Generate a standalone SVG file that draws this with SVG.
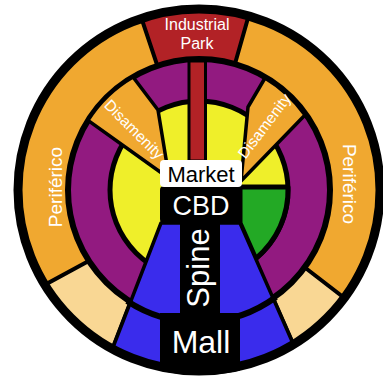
<svg xmlns="http://www.w3.org/2000/svg" width="383" height="381" viewBox="0 0 383 381">
<style>
.lbl{font-family:"Liberation Sans",Arial,sans-serif;fill:#fff}
.dark{fill:#000}
.sec{stroke:#000;stroke-width:4;stroke-linejoin:round}
</style>
<defs>
<clipPath id="disc"><circle cx="199" cy="190" r="181"/></clipPath>
</defs>
<g id="ring-outer">
<circle cx="199" cy="190" r="181" fill="#F0A830"/>
</g>
<g id="industrial-park" clip-path="url(#disc)">
<path class="sec" d="M199,190 L132,-10 L256,-10 Z" fill="#B22226"/>
</g>
<g id="tan-left" clip-path="url(#disc)">
<path class="sec" d="M102.5,253.5 L-55,339 L-20,460 L83.8,423 L137.8,283 Z" fill="#F9D794"/>
</g>
<g id="tan-right" clip-path="url(#disc)">
<path class="sec" d="M283.5,251 L448,378 L420,480 L328,423 L266.4,283 Z" fill="#F9D794"/>
</g>
<g id="ring-middle">
<circle cx="199" cy="190" r="131" fill="#921A80" stroke="#000" stroke-width="6"/>
</g>
<g id="ring-inner">
<circle cx="199" cy="190" r="89" fill="#EFEF2A" stroke="#000" stroke-width="5"/>
</g>
<g id="green">
<path d="M240,187 L288,187 A89,89 0 0 1 255.7,258.6 L240,223 Z" fill="#23A925" stroke="#000" stroke-width="5" stroke-linejoin="round"/>
</g>
<g id="industrial-bar">
<rect x="189" y="61" width="16.5" height="100" fill="#B22226" stroke="#000" stroke-width="3"/>
</g>
<g id="disamenity-left">
<path d="M163,174 L88,120.4 A131,131 0 0 1 133,77 L158,110 L167,165 Z" fill="#F0A830" stroke="#000" stroke-width="3.5" stroke-linejoin="round"/>
</g>
<g id="disamenity-right">
<path d="M241,181 L305,115 A131,131 0 0 0 265,78 L248,107 Z" fill="#F0A830" stroke="#000" stroke-width="3.5" stroke-linejoin="round"/>
</g>
<g id="spine-wedge" clip-path="url(#disc)">
<path d="M161,223 L240,223 L328,423 L83.8,423 Z" fill="#3A2CEC" stroke="#000" stroke-width="3.5" stroke-linejoin="round"/>
<path d="M276,297 A131,131 0 0 1 127,301" fill="none" stroke="#000" stroke-width="6"/>
</g>
<g id="connectors"/>
<g id="spine">
<rect x="180" y="220" width="40" height="95" fill="#000"/>
</g>
<g id="mall">
<path d="M160,313 H240 V370.4 A185,185 0 0 1 160,370.8 Z" fill="#000"/>
</g>
<g id="cbd">
<rect x="160" y="186" width="82" height="37" rx="4" fill="#000"/>
</g>
<g id="market">
<rect x="160" y="160" width="82" height="27" rx="4" fill="#fff"/>
</g>
<g id="border">
<circle cx="199" cy="190" r="181" fill="none" stroke="#000" stroke-width="9"/>
</g>
<g id="labels">
<text class="lbl dark" x="201" y="182" font-size="22" text-anchor="middle">Market</text>
<text class="lbl" x="201" y="215" font-size="27" text-anchor="middle">CBD</text>
<text class="lbl" x="0" y="0" font-size="31" text-anchor="middle" transform="translate(209,268) rotate(-90)">Spine</text>
<text class="lbl" x="201" y="353" font-size="32" text-anchor="middle">Mall</text>
<text class="lbl" x="197" y="30" font-size="16" text-anchor="middle">Industrial</text>
<text class="lbl" x="197" y="49" font-size="16" text-anchor="middle">Park</text>
<text class="lbl" x="0" y="0" font-size="19" text-anchor="middle" transform="translate(62,187) rotate(-90)">Periférico</text>
<text class="lbl" x="0" y="0" font-size="19" text-anchor="middle" transform="translate(343,184) rotate(90)">Periférico</text>
<text class="lbl" x="0" y="0" font-size="15.5" text-anchor="middle" transform="translate(130.3,133.2) rotate(45)">Disamenity</text>
<text class="lbl" x="0" y="0" font-size="15.5" text-anchor="middle" transform="translate(268.6,129.2) rotate(-53)">Disamenity</text>
</g>
</svg>
